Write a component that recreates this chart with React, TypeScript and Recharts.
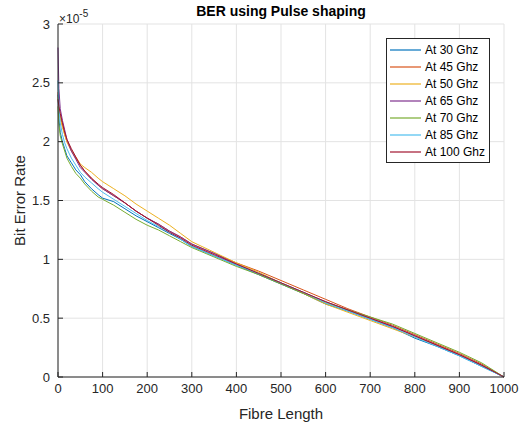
import React from "react";
import { LineChart, Line, XAxis, YAxis, CartesianGrid } from "recharts";

// fibre length sample points
const lengths = [
  0, 2, 5, 10, 15, 20, 30, 40, 50, 60, 75, 90, 100, 125, 150, 175, 200, 225, 250, 275, 300, 350, 400,
  450, 500, 550, 600, 650, 700, 750, 800, 850, 900, 950, 1000,
];

// bit error rate, in units of 1e-5
const ber30 = [
  2.4, 2.2, 2.08, 2.0, 1.94, 1.88, 1.82, 1.76, 1.72, 1.66, 1.6, 1.55, 1.52, 1.49, 1.43, 1.37, 1.32, 1.27,
  1.22, 1.17, 1.11, 1.03, 0.95, 0.87, 0.79, 0.71, 0.62, 0.56, 0.49, 0.42, 0.33, 0.26, 0.18, 0.09, 0,
];
const ber45 = [
  2.42, 2.3, 2.22, 2.14, 2.06, 2.0, 1.92, 1.86, 1.8, 1.75, 1.69, 1.63, 1.6, 1.54, 1.48, 1.41, 1.35, 1.3,
  1.24, 1.19, 1.13, 1.05, 0.97, 0.9, 0.82, 0.74, 0.66, 0.58, 0.51, 0.44, 0.36, 0.28, 0.2, 0.11, 0,
];
const ber50 = [
  2.38, 2.28, 2.2, 2.12, 2.06, 2.0, 1.93, 1.87, 1.81, 1.78, 1.74, 1.69, 1.66, 1.6, 1.54, 1.47, 1.41, 1.35,
  1.29, 1.22, 1.15, 1.06, 0.97, 0.89, 0.8, 0.71, 0.62, 0.55, 0.48, 0.41, 0.34, 0.27, 0.19, 0.1, 0,
];
const ber65 = [
  2.8, 2.45, 2.28, 2.18, 2.1, 2.02, 1.92, 1.85, 1.78, 1.74, 1.68, 1.63, 1.6, 1.54, 1.48, 1.41, 1.35, 1.3,
  1.24, 1.19, 1.13, 1.05, 0.96, 0.88, 0.8, 0.72, 0.64, 0.57, 0.5, 0.43, 0.35, 0.27, 0.19, 0.1, 0,
];
const ber70 = [
  2.3, 2.15, 2.05, 1.98, 1.92, 1.86, 1.79, 1.73, 1.69, 1.64, 1.58, 1.53, 1.51, 1.46, 1.4, 1.34, 1.29, 1.25,
  1.2, 1.15, 1.1, 1.02, 0.94, 0.87, 0.79, 0.71, 0.63, 0.57, 0.51, 0.45, 0.37, 0.29, 0.21, 0.12, 0,
];
const ber85 = [
  2.52, 2.3, 2.16, 2.06, 1.99, 1.94, 1.86, 1.8, 1.74, 1.7, 1.65, 1.6, 1.57, 1.51, 1.45, 1.39, 1.33, 1.28,
  1.23, 1.17, 1.11, 1.03, 0.95, 0.88, 0.8, 0.72, 0.63, 0.56, 0.49, 0.42, 0.34, 0.26, 0.18, 0.09, 0,
];
const ber100 = [
  2.36, 2.3, 2.24, 2.16, 2.08, 2.02, 1.94, 1.87, 1.8, 1.75, 1.69, 1.64, 1.61, 1.55, 1.48, 1.41, 1.35, 1.29,
  1.23, 1.18, 1.12, 1.04, 0.96, 0.88, 0.8, 0.72, 0.64, 0.57, 0.5, 0.43, 0.35, 0.27, 0.19, 0.1, 0,
];

const xTicks = [0, 100, 200, 300, 400, 500, 600, 700, 800, 900, 1000];
const yTicks = [0, 0.5, 1, 1.5, 2, 2.5, 3];

const series = [
  { key: "f30", name: "At 30 Ghz", color: "#0072BD", values: ber30 },
  { key: "f45", name: "At 45 Ghz", color: "#D95319", values: ber45 },
  { key: "f50", name: "At 50 Ghz", color: "#EDB120", values: ber50 },
  { key: "f65", name: "At 65 Ghz", color: "#7E2F8E", values: ber65 },
  { key: "f70", name: "At 70 Ghz", color: "#77AC30", values: ber70 },
  { key: "f85", name: "At 85 Ghz", color: "#4DBEEE", values: ber85 },
  { key: "f100", name: "At 100 Ghz", color: "#A2142F", values: ber100 },
];

const data = lengths.map((len, i) => {
  const row: Record<string, number> = { len };
  series.forEach((s) => {
    row[s.key] = s.values[i];
  });
  return row;
});

const FONT = "'Liberation Sans', Arial, sans-serif";
const INK = "#262626";

function LegendBox() {
  return (
    <div
      style={{
        position: "absolute",
        left: 386,
        top: 38,
        border: `1px solid ${INK}`,
        background: "#fff",
        padding: "2px 4px 2px 3px",
        fontFamily: FONT,
        fontSize: 12,
        color: "#000",
      }}
    >
      {series.map((s) => (
        <div key={s.key} style={{ display: "flex", alignItems: "center", height: 17 }}>
          <svg width={31} height={4} style={{ marginRight: 4 }}>
            <line x1={0} x2={31} y1={2} y2={2} stroke={s.color} strokeWidth={1.2} />
          </svg>
          <span>{s.name}</span>
        </div>
      ))}
    </div>
  );
}

export default function App() {
  return (
    <div style={{ position: "absolute", left: 0, top: 0, width: 523, height: 425, background: "#fff" }}>
      <LineChart
        width={523}
        height={425}
        data={data}
        margin={{ top: 24, right: 19, bottom: 0, left: 0 }}
        style={{ fontFamily: FONT }}
      >
        <CartesianGrid stroke="#e3e3e3" />
        <XAxis
          dataKey="len"
          type="number"
          domain={[0, 1000]}
          ticks={xTicks}
          height={48}
          tickSize={-5}
          tickMargin={12}
          stroke={INK}
          tick={{ fill: INK, fontSize: 13 }}
          label={{ value: "Fibre Length", position: "insideBottom", offset: 6, fill: INK, fontSize: 15 }}
        />
        <YAxis
          type="number"
          domain={[0, 3]}
          ticks={yTicks}
          width={58}
          tickSize={-5}
          tickMargin={13}
          stroke={INK}
          tick={{ fill: INK, fontSize: 13 }}
          label={{
            value: "Bit Error Rate",
            angle: -90,
            position: "insideLeft",
            offset: 20,
            fill: INK,
            fontSize: 15,
            style: { textAnchor: "middle" },
          }}
        />
        {series.map((s) => (
          <Line
            key={s.key}
            type="linear"
            dataKey={s.key}
            name={s.name}
            stroke={s.color}
            strokeWidth={1}
            dot={false}
            isAnimationActive={false}
          />
        ))}
      </LineChart>
      <div
        style={{
          position: "absolute",
          left: 58,
          width: 446,
          top: 3,
          textAlign: "center",
          fontFamily: FONT,
          fontWeight: "bold",
          fontSize: 14,
          color: "#000",
        }}
      >
        BER using Pulse shaping
      </div>
      <div style={{ position: "absolute", left: 59, top: 9, fontFamily: FONT, fontSize: 12, color: INK }}>
        ×10<sup style={{ fontSize: 10, position: "relative", top: -1 }}>-5</sup>
      </div>
      <LegendBox />
    </div>
  );
}
